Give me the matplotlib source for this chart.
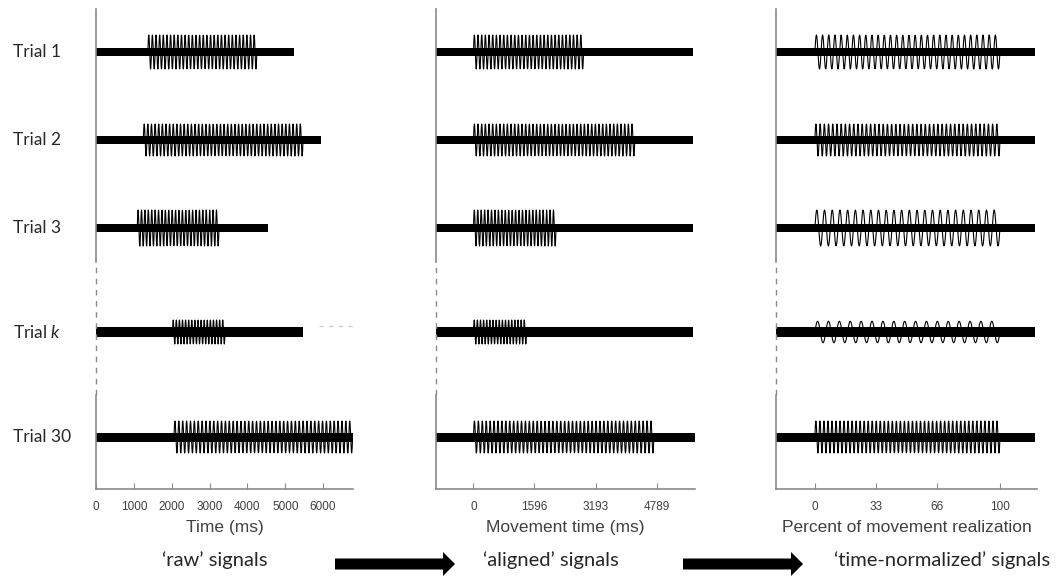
import numpy as np
import matplotlib
matplotlib.use("Agg")
import matplotlib.pyplot as plt
from matplotlib.patches import FancyArrow

plt.rcParams["mathtext.fontset"] = "custom"
plt.rcParams["mathtext.it"] = "Lato:italic"
plt.rcParams["mathtext.rm"] = "Lato"

# trials shown (rows, top to bottom)
trial_names = ["Trial 1", "Trial 2", "Trial 3", "Trial $k$", "Trial 30"]

# raw signals (ms): burst onset / offset and recording end
raw_onset = [1370, 1250, 1090, 2020, 2060]
raw_offset = [4250, 5470, 3250, 3410, 6780]
raw_end = [5230, 5950, 4540, 5470, 6780]

# number of oscillation cycles in each burst, burst and baseline amplitude
burst_cycles = [30, 44, 24, 17, 46]
burst_amp = [17, 16, 18, 12, 16]
base_amp = [4, 4, 4, 5, 4.5]

# aligned signals: window around onset (ms)
aligned_start = -980
aligned_end = [5740, 5740, 5740, 5740, 5795]

# time-normalized signals: percent window
norm_start = -21
norm_end = 119

raw_ticks = [0, 1000, 2000, 3000, 4000, 5000, 6000]
aligned_ticks = [0, 1596, 3193, 4789]
norm_ticks = [0, 33, 66, 100]

panel_labels = ["Time (ms)", "Movement time (ms)", "Percent of movement realization"]
bottom_titles = ["\u2018raw\u2019 signals", "\u2018aligned\u2019 signals",
                 "\u2018time-normalized\u2019 signals"]

# layout (px inside each panel, 1 unit = 1 px)
row_y = [437, 349, 261, 157, 52]
W, H = 1062, 576
fig = plt.figure(figsize=(W / 100, H / 100), dpi=100)

overlay = fig.add_axes([0, 0, 1, 1])
overlay.set_xlim(0, W)
overlay.set_ylim(H, 0)
overlay.axis("off")


def draw_trace(ax, y0, t0, t1, b0, b1, ncyc, amp, bamp):
    # baseline band over whole recording
    ax.fill_between([t0, t1], y0 - bamp, y0 + bamp, color="black", lw=0)
    # burst
    b1 = min(b1, t1)
    n = max(int(ncyc * 16), 50)
    t = np.linspace(b0, b1, n)
    phase = (t - b0) / (b1 - b0) * ncyc * 2 * np.pi
    ax.plot(t, y0 + amp * np.sin(phase), color="black", lw=0.8)


def style_axis(ax, xlim, ticks, label):
    ax.set_xlim(*xlim)
    ax.set_ylim(0, 480)
    for s in ["top", "right", "left"]:
        ax.spines[s].set_visible(False)
    ax.spines["bottom"].set_color("#8a8a8a")
    ax.spines["bottom"].set_linewidth(1.2)
    ax.set_yticks([])
    ax.set_xticks(ticks)
    ax.tick_params(axis="x", direction="in", length=4, color="#8a8a8a",
                   labelsize=8.5, labelcolor="#404040", pad=8.5)
    for lab in ax.get_xticklabels():
        lab.set_fontfamily("Liberation Sans")
    ax.set_xlabel(label, fontsize=12.5, color="#404040",
                  family="Liberation Sans", labelpad=5)
    # left axis line, dashed between trial 3 and trial 30
    tr = ax.get_yaxis_transform()
    ax.plot([0, 0], [227, 480], color="#8a8a8a", lw=1.2, transform=tr, clip_on=False)
    ax.plot([0, 0], [94, 227], color="#8a8a8a", lw=1.0, ls=(0, (4, 4)),
            transform=tr, clip_on=False)
    ax.plot([0, 0], [0, 94], color="#8a8a8a", lw=1.2, transform=tr, clip_on=False)


ax_raw = fig.add_axes([96 / W, 1 - 489 / H, 257 / W, 480 / H])
ax_al = fig.add_axes([436 / W, 1 - 489 / H, 259 / W, 480 / H])
ax_nm = fig.add_axes([776 / W, 1 - 489 / H, 261 / W, 480 / H])
for a in [ax_raw, ax_al, ax_nm]:
    a.patch.set_alpha(0)

for i in range(len(trial_names)):
    on, off, end = raw_onset[i], raw_offset[i], raw_end[i]
    cyc, amp, bamp = burst_cycles[i], burst_amp[i], base_amp[i]
    y0 = row_y[i]
    draw_trace(ax_raw, y0, 0, end, on, off, cyc, amp, bamp)
    draw_trace(ax_al, y0, aligned_start, aligned_end[i], 0, off - on, cyc, amp, bamp)
    draw_trace(ax_nm, y0, norm_start, norm_end, 0, 100, cyc,
               amp * (0.9 if i == 3 else 1.0), bamp)

# faint artefact after trial k in the raw panel
ax_raw.plot([5900, 6780], [row_y[3] + 6, row_y[3] + 6], color="#cfcfcf",
            lw=1, ls=(0, (3, 4)))

style_axis(ax_raw, (0, 6790), raw_ticks, panel_labels[0])
style_axis(ax_al, (aligned_start, 5795), aligned_ticks, panel_labels[1])
style_axis(ax_nm, (norm_start, 120), norm_ticks, panel_labels[2])

# trial labels
for i, name in enumerate(trial_names):
    overlay.text(13, 489 - row_y[i], name, fontsize=12.5, family="Lato",
                 color="#262626", va="center", ha="left")

# bottom titles and arrows
title_x = [215, 551, 942]
for x, t in zip(title_x, bottom_titles):
    overlay.text(x, 560, t, fontsize=14.5, family="Lato", color="#262626",
                 ha="center", va="center")

for x0, x1 in [(335, 455), (683, 803)]:
    overlay.add_patch(FancyArrow(x0, 564, x1 - x0, 0, width=11, head_width=24,
                                 head_length=12, length_includes_head=True,
                                 color="black", lw=0))

fig.savefig("out.png", dpi=100)
